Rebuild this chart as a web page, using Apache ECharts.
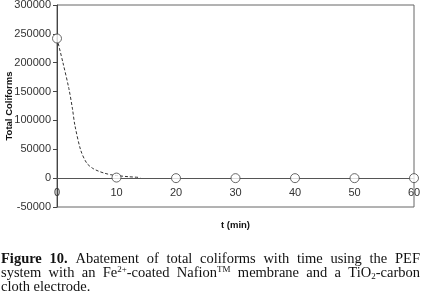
<!DOCTYPE html>
<html>
<head>
<meta charset="utf-8">
<script src="https://cdn.jsdelivr.net/npm/echarts@6/dist/echarts.min.js"></script>
<style>
  html, body { margin: 0; padding: 0; background: #fff; }
  #main { width: 421px; height: 294px; }
</style>
</head>
<body>
<div id="main"></div>
<script>
// measured points (open circles)
const timeMin = [0, 10, 20, 30, 40, 50, 60];
const coliforms = [242000, 1000, 0, 0, 0, 0, 0];

// dashed trend curve
const fitTime = [0, 1, 2, 2.6, 3, 4, 5, 6, 7, 8, 9, 10, 12, 14];
const fitCount = [242000, 200000, 155000, 120000, 92000, 48000, 26000, 17000, 12000, 8500, 6000, 4500, 2500, 1200];

// axis range
const yMin = -50000, yMax = 300000, yStep = 50000;
const xMin = 0, xMax = 60, xStep = 10;

// caption, word by word ([text, richStyle])
const captionLines = [
  [[['Figure', 'b']], [['10.', 'b']], [['Abatement']], [['of']], [['total']], [['coliforms']], [['with']], [['time']], [['using']], [['the']], [['PEF']]],
  [[['system']], [['with']], [['an']], [['Fe'], ['2+', 'sup'], ['-coated']], [['Nafion'], ['TM', 'sup']], [['membrane']], [['and']], [['a']], [['TiO'], ['2', 'sub'], ['-carbon']]],
  [[['cloth']], [['electrode.']]]
];

const chart = echarts.init(document.getElementById('main'), null, { renderer: 'canvas' });

const serif = '"Liberation Serif", "Times New Roman", serif';
const sans = '"Liberation Sans", Arial, sans-serif';
const fonts = {
  n: '14.5px ' + serif,
  b: 'bold 14.5px ' + serif,
  sup: '9px ' + serif,
  sub: '9px ' + serif
};
const ctx = document.createElement('canvas').getContext('2d');
function segWidth(seg) {
  ctx.font = fonts[seg[1] || 'n'];
  return ctx.measureText(seg[0]).width;
}

// build justified caption as graphic text elements
const captionTop = [251, 265, 279];
const leftX = 1, rightX = 420;
const captionEls = [];
captionLines.forEach((words, li) => {
  const widths = words.map(w => w.reduce((s, seg) => s + segWidth(seg), 0));
  const total = widths.reduce((a, b) => a + b, 0);
  ctx.font = fonts.n;
  let gap = ctx.measureText(' ').width;
  if (li < captionLines.length - 1) gap = (rightX - leftX - total) / (words.length - 1);
  let x = leftX;
  words.forEach((w, wi) => {
    captionEls.push({
      type: 'text',
      x: x,
      y: captionTop[li],
      style: {
        text: w.map(seg => '{' + (seg[1] || 'n') + '|' + seg[0] + '}').join(''),
        rich: {
          n: { font: fonts.n, lineHeight: 16, fill: '#111' },
          b: { font: fonts.b, lineHeight: 16, fill: '#111' },
          sup: { font: fonts.sup, lineHeight: 16, verticalAlign: 'top', fill: '#111' },
          sub: { font: fonts.sub, lineHeight: 16, verticalAlign: 'bottom', fill: '#111' }
        },
        verticalAlign: 'top'
      }
    });
    x += widths[wi] + gap;
  });
});

const option = {
  animation: false,
  backgroundColor: '#fff',
  grid: {
    left: 57, right: 7, top: 5, bottom: 87,
    outerBoundsMode: 'none',
    containLabel: false,
    show: true, borderColor: '#666', borderWidth: 1
  },
  xAxis: {
    type: 'value',
    min: xMin, max: xMax, interval: xStep,
    name: 't (min)',
    nameLocation: 'middle',
    nameGap: 42,
    nameMoveOverlap: false,
    offset: -29, // axis sits on the y = 0 line
    nameTextStyle: { fontFamily: sans, fontWeight: 'bold', fontSize: 9.5, color: '#111' },
    axisLine: { onZero: false, lineStyle: { color: '#555', width: 1 } },
    axisTick: { show: false },
    axisLabel: { margin: 9, fontFamily: sans, fontSize: 11, color: '#333' },
    splitLine: { show: false }
  },
  yAxis: {
    type: 'value',
    min: yMin, max: yMax, interval: yStep,
    name: 'Total Coliforms',
    nameLocation: 'middle',
    nameGap: 43,
    nameMoveOverlap: false,
    nameTextStyle: { fontFamily: sans, fontWeight: 'bold', fontSize: 9.5, color: '#111' },
    axisLine: { show: true, onZero: false, lineStyle: { color: '#444', width: 1 } },
    axisTick: { show: true, length: 4, lineStyle: { color: '#444' } },
    axisLabel: { margin: 6, fontFamily: sans, fontSize: 11, color: '#333', formatter: v => String(v) },
    splitLine: { show: false }
  },
  series: [
    {
      name: 'trend',
      type: 'line',
      data: fitTime.map((t, i) => [t, fitCount[i]]),
      smooth: 0.3,
      showSymbol: false,
      lineStyle: { color: '#333', width: 1, type: [3, 2] },
      z: 2
    },
    {
      name: 'Total coliforms',
      type: 'scatter',
      data: timeMin.map((t, i) => [t, coliforms[i]]),
      symbol: 'circle',
      symbolSize: 9,
      itemStyle: { color: '#fff', borderColor: '#444', borderWidth: 1 },
      z: 3
    }
  ],
  graphic: captionEls
};

chart.setOption(option);
</script>
</body>
</html>
